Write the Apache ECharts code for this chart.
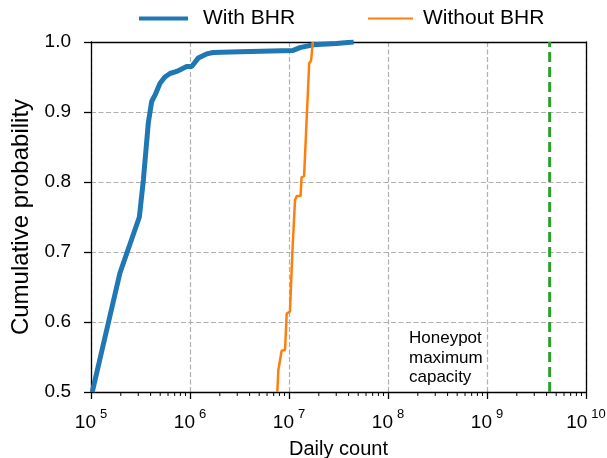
<!DOCTYPE html>
<html>
<head>
<meta charset="utf-8">
<script src="https://cdn.jsdelivr.net/npm/echarts@6/dist/echarts.min.js"></script>
<style>html,body{margin:0;padding:0;background:#fff}#c{width:607px;height:458px}</style>
</head>
<body>
<div id="c"></div>
<script>
// ---- data ----
const withBhrCounts = [1.03e5, 1.96e5, 3.08e5, 3.38e5, 3.79e5, 4.10e5, 4.43e5, 4.98e5, 5.58e5, 6.28e5, 7.33e5, 9.25e5, 1.04e6, 1.21e6, 1.47e6, 1.72e6, 3.2e6, 1.1e7, 1.29e7, 1.76e7, 3.0e7, 4.5e7];
const withBhrProb   = [0.500, 0.670, 0.750, 0.803, 0.884, 0.915, 0.924, 0.941, 0.950, 0.955, 0.958, 0.965, 0.965, 0.977, 0.983, 0.985, 0.986, 0.988, 0.992, 0.996, 0.998, 1.000];
const withoutBhrCounts = [7.62e6, 7.80e6, 8.43e6, 9.12e6, 9.48e6, 1.023e7, 1.08e7, 1.15e7, 1.197e7, 1.31e7, 1.34e7, 1.42e7, 1.60e7, 1.67e7, 1.74e7];
const withoutBhrProb   = [0.500, 0.531, 0.559, 0.560, 0.612, 0.615, 0.698, 0.774, 0.780, 0.780, 0.807, 0.808, 0.970, 0.973, 1.000];
const honeypotCapacity = 4294967296;
const capacityProb = [0.5, 1.0];
const seriesNames = ['With BHR', 'Without BHR'];
const xTickValues = [1e5, 1e6, 1e7, 1e8, 1e9, 1e10];
const yTickValues = [0.5, 0.6, 0.7, 0.8, 0.9, 1.0];
const minorTickValues = [2e5,3e5,4e5,5e5,6e5,7e5,8e5,9e5, 2e6,3e6,4e6,5e6,6e6,7e6,8e6,9e6, 2e7,3e7,4e7,5e7,6e7,7e7,8e7,9e7, 2e8,3e8,4e8,5e8,6e8,7e8,8e8,9e8, 2e9,3e9,4e9,5e9,6e9,7e9,8e9,9e9];
const annotationText = 'Honeypot\nmaximum\ncapacity';
const xAxisTitle = 'Daily count';
const yAxisTitle = 'Cumulative probability';

const FONT = 'Liberation Sans, Arial, Helvetica, sans-serif';
const zip = (a, b) => a.map((v, i) => [v, b[i]]);
const xMin = xTickValues[0], xMax = xTickValues[xTickValues.length - 1];
const yMin = yTickValues[0], yMax = yTickValues[yTickValues.length - 1];
const frameAxis = {show: true, lineStyle: {color: '#000', width: 1.3}};
const grayDash = {show: true, lineStyle: {color: '#b0b0b0', width: 1.2, type: [5, 2.5]}};

const chart = echarts.init(document.getElementById('c'), null, {renderer: 'canvas'});
chart.setOption({
  animation: false,
  textStyle: {fontFamily: FONT, color: '#000'},
  grid: {left: 91, right: 21, top: 42, bottom: 66, containLabel: false, outerBoundsMode: 'none'},
  legend: [
    {data: [seriesNames[0]], left: 139, top: 8, padding: 0, itemWidth: 49, itemHeight: 20, icon: 'path://M0,8L49,8L49,12L0,12Z',
     itemStyle: {color: '#1f77b4'}, textStyle: {fontSize: 21, fontFamily: FONT, color: '#000', padding: [0, 0, 0, 10]}},
    {data: [seriesNames[1]], left: 368, top: 8, padding: 0, itemWidth: 45, itemHeight: 20, icon: 'path://M0,9L45,9L45,11L0,11Z',
     itemStyle: {color: '#ff7f0e'}, textStyle: {fontSize: 21, fontFamily: FONT, color: '#000', padding: [0, 0, 0, 5]}}
  ],
  xAxis: [{
    type: 'log', logBase: 10, min: xMin, max: xMax,
    name: xAxisTitle, nameLocation: 'middle', nameGap: 47,
    nameTextStyle: {fontSize: 20, fontFamily: FONT, color: '#000'},
    axisLine: {onZero: false, lineStyle: {color: '#000', width: 1.3}},
    axisTick: {show: true, inside: false, length: 7, lineStyle: {color: '#000', width: 1.3}},
    splitLine: grayDash,
    axisLabel: {
      margin: 16,
      formatter: v => '{b|10}{s|' + Math.round(Math.log10(v)) + '}',
      rich: {
        b: {fontSize: 19, fontFamily: FONT, color: '#000', verticalAlign: 'bottom', lineHeight: 24},
        s: {fontSize: 13, fontFamily: FONT, color: '#000', verticalAlign: 'top', padding: [0, 0, 0, 4]}
      }
    }
  }, {
    type: 'log', logBase: 10, min: xMin, max: xMax, position: 'top',
    axisLine: frameAxis, axisTick: {show: false}, axisLabel: {show: false}, splitLine: {show: false}
  }],
  yAxis: [{
    type: 'value', min: yMin, max: yMax, interval: 0.1,
    name: yAxisTitle, nameLocation: 'middle', nameGap: 58,
    nameTextStyle: {fontSize: 24, fontFamily: FONT, color: '#000'},
    axisLine: {show: true, lineStyle: {color: '#000', width: 1.3}},
    axisTick: {show: true, inside: false, length: 7, lineStyle: {color: '#000', width: 1.3}},
    splitLine: grayDash,
    axisLabel: {margin: 20, fontSize: 19, fontFamily: FONT, color: '#000', formatter: v => v.toFixed(1)}
  }, {
    type: 'value', min: yMin, max: yMax, interval: 0.1, position: 'right',
    axisLine: frameAxis, axisTick: {show: false}, axisLabel: {show: false}, splitLine: {show: false}
  }],
  graphic: [
    {type: 'text', left: 409, top: 329, z: 100,
     style: {text: annotationText, font: '17px ' + FONT, lineHeight: 19.5, fill: '#000'}}
  ],
  series: [
    {name: seriesNames[0], type: 'line', data: zip(withBhrCounts, withBhrProb), showSymbol: false, symbol: 'none',
     lineStyle: {color: '#1f77b4', width: 5}, itemStyle: {color: '#1f77b4'}, z: 3},
    {name: seriesNames[1], type: 'line', data: zip(withoutBhrCounts, withoutBhrProb), showSymbol: false, symbol: 'none',
     lineStyle: {color: '#ff7f0e', width: 2.5}, itemStyle: {color: '#ff7f0e'}, z: 4},
    {name: 'capacity', type: 'line', data: capacityProb.map(p => [honeypotCapacity, p]), showSymbol: false, symbol: 'none',
     lineStyle: {color: '#2ca02c', width: 3, type: [10, 5]}, z: 4},
    {name: 'minor', type: 'custom', silent: true, clip: false, z: 5,
     data: minorTickValues.map(v => [v, yMin]),
     encode: {x: 0, y: 1},
     renderItem: (params, api) => {
       const p = api.coord([api.value(0), api.value(1)]);
       return {type: 'line', shape: {x1: p[0], y1: p[1], x2: p[0], y2: p[1] + 4}, style: {stroke: '#000', lineWidth: 1}};
     }}
  ]
});
</script>
</body>
</html>
